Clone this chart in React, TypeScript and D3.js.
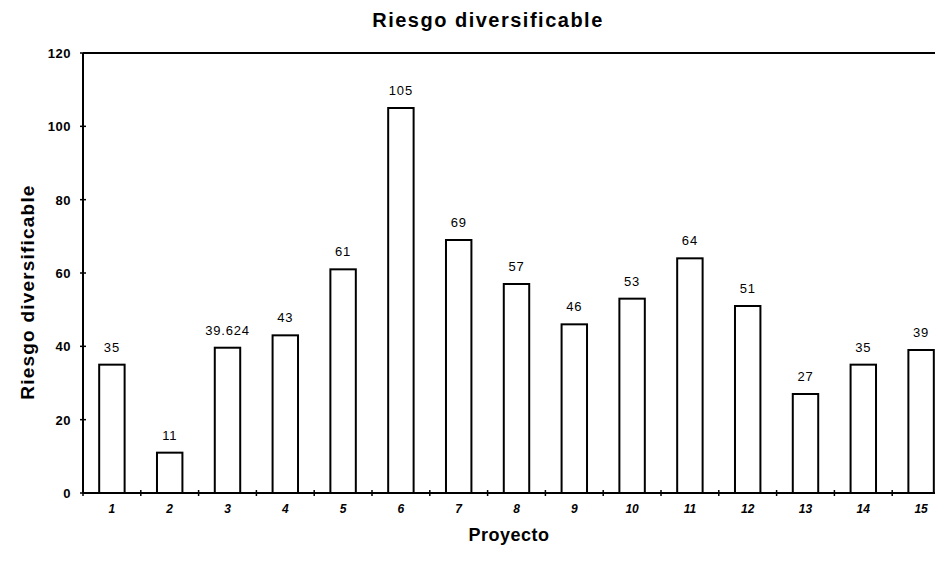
import React from "react";
import * as d3 from "d3";

const categories = ["1","2","3","4","5","6","7","8","9","10","11","12","13","14","15"];
const values = [35, 11, 39.624, 43, 61, 105, 69, 57, 46, 53, 64, 51, 27, 35, 39];
const valueLabels = ["35","11","39.624","43","61","105","69","57","46","53","64","51","27","35","39"];
const yTicks = [0, 20, 40, 60, 80, 100, 120];

const W = 935, H = 565;
const left = 83, top = 53, bottom = 493;
const step = 57.8;
const right = left + step * categories.length;

export default function App() {
  const x = d3.scaleBand<string>().domain(categories).range([left, right]).paddingInner(0.56).paddingOuter(0.28);
  const y = d3.scaleLinear().domain([0, 120]).range([bottom, top]);
  const font = "'Liberation Sans', Arial, sans-serif";
  const boundaries = categories.map((_, i) => left + i * step).concat([right]);
  return (
    <svg width={W} height={H} style={{ position: "absolute", left: 0, top: 0, background: "#fff", overflow: "hidden" }} fontFamily={font}>
      <rect x={0} y={0} width={W} height={H} fill="#fff" />
      <text x={488} y={27} textAnchor="middle" fontSize={20} fontWeight="bold" letterSpacing={1.5}>Riesgo diversificable</text>
      {/* top border */}
      <line x1={left} x2={W} y1={top} y2={top} stroke="#000" strokeWidth={2} />
      {/* y axis */}
      <line x1={left} x2={left} y1={top} y2={bottom} stroke="#000" strokeWidth={2} />
      {yTicks.map(t => (
        <g key={t}>
          <line x1={left - 3} x2={left + 3} y1={y(t)} y2={y(t)} stroke="#000" strokeWidth={1.5} />
          <text x={left - 12} y={y(t) + 5} textAnchor="end" fontSize={13} fontWeight="bold" letterSpacing={0.5}>{t}</text>
        </g>
      ))}
      <text transform={`translate(34,${292}) rotate(-90)`} textAnchor="middle" fontSize={19} fontWeight="bold" letterSpacing={1.2}>Riesgo diversificable</text>
      {/* bars */}
      {values.map((v, i) => {
        const c = categories[i];
        const bx = x(c)!;
        const bw = x.bandwidth();
        return (
          <g key={c}>
            <rect x={bx} y={y(v)} width={bw} height={bottom - y(v)} fill="#fff" stroke="#000" strokeWidth={2} />
            <text x={bx + bw / 2} y={y(v) - 13} textAnchor="middle" fontSize={13} letterSpacing={0.8}>{valueLabels[i]}</text>
          </g>
        );
      })}
      {/* x axis */}
      <line x1={left} x2={W} y1={bottom} y2={bottom} stroke="#000" strokeWidth={2} />
      {boundaries.map((b, i) => (
        <line key={i} x1={b} x2={b} y1={bottom - 3} y2={bottom + 3} stroke="#000" strokeWidth={1.5} />
      ))}
      {categories.map(c => (
        <text key={c} x={x(c)! + x.bandwidth() / 2} y={513} textAnchor="middle" fontSize={12} fontWeight="bold" fontStyle="italic">{c}</text>
      ))}
      <text x={509} y={541} textAnchor="middle" fontSize={18} fontWeight="bold" letterSpacing={0.5}>Proyecto</text>
    </svg>
  );
}
